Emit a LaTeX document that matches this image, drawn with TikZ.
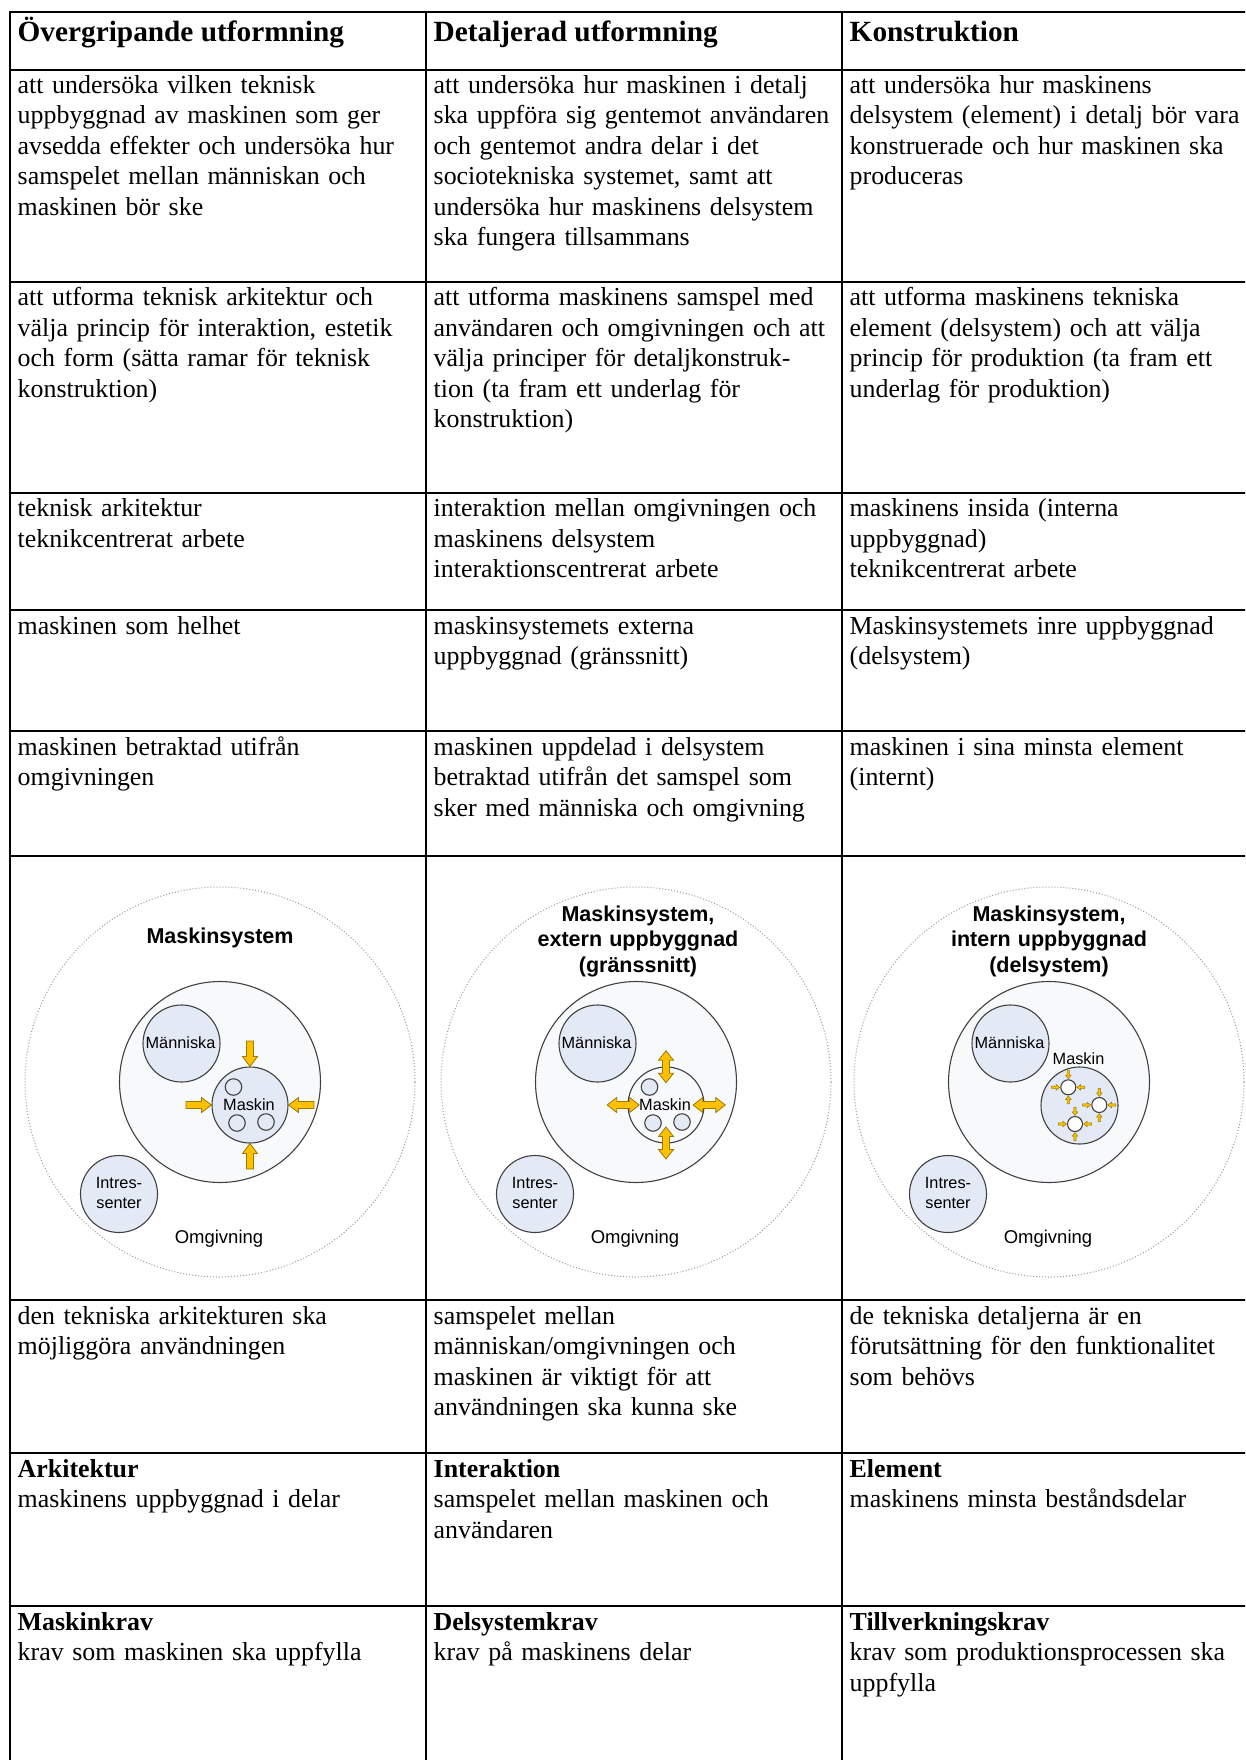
\documentclass[tikz,border=0pt]{standalone}
\usepackage{fontspec}
\setmainfont{Liberation Serif}
\newfontfamily\diagfont{Liberation Sans}
\usetikzlibrary{calc}

\definecolor{ringgray}{HTML}{9A9A9A}
\definecolor{circline}{HTML}{404040}
\definecolor{sysfill}{HTML}{F8F9FB}
\definecolor{partfill}{HTML}{E4EAF5}
\definecolor{arrowfill}{HTML}{FFC000}
\definecolor{arrowline}{HTML}{9C7A00}

\tikzset{
  rule/.style={line width=2.6pt, draw=black, line cap=rect},
  cell/.style={anchor=base west, inner sep=0pt, text width=410pt, align=left,
    font=\fontsize{25.9}{30.5}\selectfont},
  headcell/.style={anchor=base west, inner sep=0pt,
    font=\fontsize{29.3}{33}\selectfont\bfseries},
  envring/.style={circle, draw=ringgray, dotted, line width=1pt,
    minimum size=390pt, inner sep=0pt},
  sysring/.style={circle, draw=circline, line width=1.1pt, fill=sysfill,
    minimum size=201pt, inner sep=0pt},
  part/.style={circle, draw=circline, line width=1.1pt, fill=partfill, inner sep=0pt},
  tag/.style={anchor=base, inner sep=0pt, font=\diagfont\fontsize{16.3}{20}\selectfont},
  twoline/.style={tag, text width=70pt, align=center},
  envtag/.style={anchor=base, inner sep=0pt, font=\diagfont\fontsize{18.5}{22}\selectfont},
  systitle/.style={anchor=base, inner sep=0pt, text width=270pt, align=center,
    font=\diagfont\bfseries\fontsize{21.5}{25.5}\selectfont},
  yarrow/.style={fill=arrowfill, draw=arrowline, line width=0.8pt, line join=miter},
  inarrow/.pic={\draw[yarrow] (-25.5,-3.5) -- (-10,-3.5) -- (-10,-7.5) -- (0,0)
      -- (-10,7.5) -- (-10,3.5) -- (-25.5,3.5) -- cycle;},
  bothwayarrow/.pic={\draw[yarrow] (-16,0) -- (-6.5,-7.5) -- (-6.5,-3.5) -- (6.5,-3.5)
      -- (6.5,-7.5) -- (16,0) -- (6.5,7.5) -- (6.5,3.5) -- (-6.5,3.5) -- (-6.5,7.5) -- cycle;},
  tinyarrow/.pic={\draw[yarrow, line width=0.5pt] (-8,-1.1) -- (-3.6,-1.1) -- (-3.6,-2.8)
      -- (0,0) -- (-3.6,2.8) -- (-3.6,1.1) -- (-8,1.1) -- cycle;}
}

\begin{document}
\begin{tikzpicture}[x=1pt,y=-1pt]
\useasboundingbox (0,0) rectangle (1245,1760);
\fill[white] (0,0) rectangle (1245,1760);
\clip (0,0) rectangle (1245,1760);

% table rules
\foreach \yy in {12,70,282,493,610,731,856,1300,1453,1606}
  \draw[rule] (10,\yy) -- (1262,\yy);
\foreach \xx in {10,426,842}
  \draw[rule] (\xx,12) -- (\xx,1780);

% header row
\node[headcell] (h1) at (17.5,41.7) {Övergripande utformning};
\node[headcell] (h2) at (433.5,41.7) {Detaljerad utformning};
\node[headcell] (h3) at (849.5,41.7) {Konstruktion};

% purpose
\node[cell] (c21) at (17.5,93.5) {att undersöka vilken teknisk\\uppbyggnad av maskinen som ger\\avsedda effekter och undersöka hur\\samspelet mellan människan och\\maskinen bör ske};
\node[cell] (c22) at (433.5,93.5) {att undersöka hur maskinen i detalj\\ska uppföra sig gentemot användaren\\och gentemot andra delar i det\\sociotekniska systemet, samt att\\undersöka hur maskinens delsystem\\ska fungera tillsammans};
\node[cell] (c23) at (849.5,93.5) {att undersöka hur maskinens\\delsystem (element) i detalj bör vara\\konstruerade och hur maskinen ska\\produceras};

% design task
\node[cell] (c31) at (17.5,305.5) {att utforma teknisk arkitektur och\\välja princip för interaktion, estetik\\och form (sätta ramar för teknisk\\konstruktion)};
\node[cell] (c32) at (433.5,305.5) {att utforma maskinens samspel med\\användaren och omgivningen och att\\välja principer för detaljkonstruk-\\tion (ta fram ett underlag för\\konstruktion)};
\node[cell] (c33) at (849.5,305.5) {att utforma maskinens tekniska\\element (delsystem) och att välja\\princip för produktion (ta fram ett\\underlag för produktion)};

% focus
\node[cell] (c41) at (17.5,516.5) {teknisk arkitektur\\teknikcentrerat arbete};
\node[cell] (c42) at (433.5,516.5) {interaktion mellan omgivningen och\\maskinens delsystem\\interaktionscentrerat arbete};
\node[cell] (c43) at (849.5,516.5) {maskinens insida (interna\\uppbyggnad)\\teknikcentrerat arbete};

% object
\node[cell] (c51) at (17.5,634) {maskinen som helhet};
\node[cell] (c52) at (433.5,634) {maskinsystemets externa\\uppbyggnad (gränssnitt)};
\node[cell] (c53) at (849.5,634) {Maskinsystemets inre uppbyggnad\\(delsystem)};

% view
\node[cell] (c61) at (17.5,755) {maskinen betraktad utifrån\\omgivningen};
\node[cell] (c62) at (433.5,755) {maskinen uppdelad i delsystem\\betraktad utifrån det samspel som\\sker med människa och omgivning};
\node[cell] (c63) at (849.5,755) {maskinen i sina minsta element\\(internt)};

% ---- system sketch 1: whole machine
\begin{scope}[shift={(220,1082)}]
  \node[envring] (env1) at (0,0) {};
  \node[sysring] (sys1) at (0,0) {};
  \node[systitle] (ttl1) at (0,-139) {Maskinsystem};
  \node[part, minimum size=77pt] (hum1) at (-38.5,-38.5) {};
  \node[tag] (hum1t) at (-39.5,-34) {Människa};
  \node[part, minimum size=76pt] (mac1) at (30,23) {};
  \node[part, minimum size=16.5pt] (m1a) at (13.5,5) {};
  \node[part, minimum size=16.5pt] (m1b) at (17,41) {};
  \node[part, minimum size=16.5pt] (m1c) at (46,40) {};
  \node[tag] (mac1t) at (29,28) {Maskin};
  \pic[rotate=-90] at (30,-15.5) {inarrow};
  \pic[rotate=90] at (30,61.5) {inarrow};
  \pic at (-8.5,23) {inarrow};
  \pic[rotate=180] at (68.5,23) {inarrow};
  \node[part, minimum size=77pt] (int1) at (-101,112) {};
  \node[twoline] (int1t) at (-101,106.6) {Intres-\\senter};
  \node[envtag] (env1t) at (-1,161) {Omgivning};
\end{scope}

% ---- system sketch 2: external structure
\begin{scope}[shift={(636,1082)}]
  \node[envring] (env2) at (0,0) {};
  \node[sysring] (sys2) at (0,0) {};
  \node[systitle] (ttl2) at (2,-161) {Maskinsystem,\\extern uppbyggnad\\(gränssnitt)};
  \node[part, minimum size=77pt] (hum2) at (-38.5,-38.5) {};
  \node[tag] (hum2t) at (-39.5,-34) {Människa};
  \node[part, fill=sysfill, minimum size=76pt] (mac2) at (30,23) {};
  \node[part, minimum size=16.5pt] (m2a) at (13.5,5) {};
  \node[part, minimum size=16.5pt] (m2b) at (17,41) {};
  \node[part, minimum size=16.5pt] (m2c) at (46,40) {};
  \pic[rotate=90] at (30,-15.3) {bothwayarrow};
  \pic[rotate=90] at (30,61) {bothwayarrow};
  \pic at (-12.8,23) {bothwayarrow};
  \pic at (73.2,23) {bothwayarrow};
  \node[tag] (mac2t) at (29,28) {Maskin};
  \node[part, minimum size=77pt] (int2) at (-101,112) {};
  \node[twoline] (int2t) at (-101,106.6) {Intres-\\senter};
  \node[envtag] (env2t) at (-1,161) {Omgivning};
\end{scope}

% ---- system sketch 3: internal structure
\begin{scope}[shift={(1049,1082)}]
  \node[envring] (env3) at (0,0) {};
  \node[sysring] (sys3) at (0,0) {};
  \node[systitle] (ttl3) at (0,-161) {Maskinsystem,\\intern uppbyggnad\\(delsystem)};
  \node[part, minimum size=77pt] (hum3) at (-38.5,-38.5) {};
  \node[tag] (hum3t) at (-39.5,-34) {Människa};
  \node[tag] (mac3t) at (29.5,-18) {Maskin};
  \node[part, minimum size=77pt] (mac3) at (30.5,23.5) {};
  \foreach \cx/\cy [count=\k] in {19.3/5.3, 50.3/23, 26/42} {
    \node[part, fill=white, minimum size=15pt] (el\k) at (\cx,\cy) {};
    \pic[rotate=-90] at (\cx,\cy-8.6) {tinyarrow};
    \pic[rotate=90] at (\cx,\cy+8.6) {tinyarrow};
    \pic at (\cx-8.6,\cy) {tinyarrow};
    \pic[rotate=180] at (\cx+8.6,\cy) {tinyarrow};
  }
  \node[part, minimum size=77pt] (int3) at (-101,112) {};
  \node[twoline] (int3t) at (-101,106.6) {Intres-\\senter};
  \node[envtag] (env3t) at (-1,161) {Omgivning};
\end{scope}

% consequence
\node[cell] (c81) at (17.5,1324) {den tekniska arkitekturen ska\\möjliggöra användningen};
\node[cell] (c82) at (433.5,1324) {samspelet mellan\\människan/omgivningen och\\maskinen är viktigt för att\\användningen ska kunna ske};
\node[cell] (c83) at (849.5,1324) {de tekniska detaljerna är en\\förutsättning för den funktionalitet\\som behövs};

% design level
\node[cell] (c91) at (17.5,1477) {\textbf{Arkitektur}\\maskinens uppbyggnad i delar};
\node[cell] (c92) at (433.5,1477) {\textbf{Interaktion}\\samspelet mellan maskinen och\\användaren};
\node[cell] (c93) at (849.5,1477) {\textbf{Element}\\maskinens minsta beståndsdelar};

% requirements
\node[cell] (c101) at (17.5,1630) {\textbf{Maskinkrav}\\krav som maskinen ska uppfylla};
\node[cell] (c102) at (433.5,1630) {\textbf{Delsystemkrav}\\krav på maskinens delar};
\node[cell] (c103) at (849.5,1630) {\textbf{Tillverkningskrav}\\krav som produktionsprocessen ska\\uppfylla};
\end{tikzpicture}
\end{document}
